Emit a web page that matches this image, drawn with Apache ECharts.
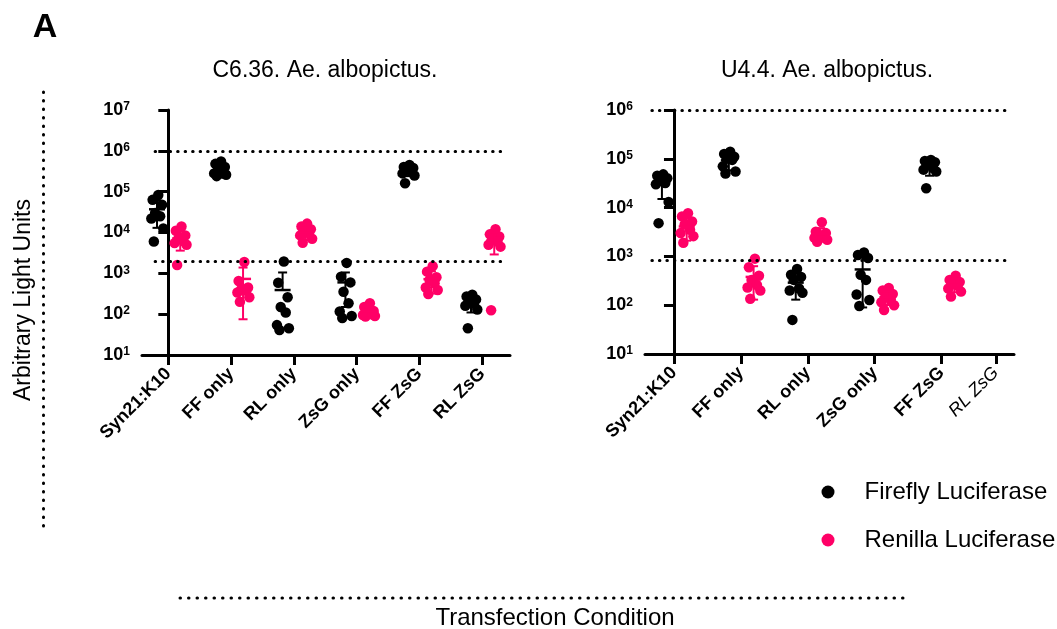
<!DOCTYPE html>
<html>
<head>
<meta charset="utf-8">
<script src="https://cdn.jsdelivr.net/npm/echarts@6/dist/echarts.min.js"></script>
<style>
    html, body { margin: 0; padding: 0; background: #fff; }
    #chart { width: 1057px; height: 629px; }
</style>
</head>
<body>
<div id="chart"></div>
<script>
"use strict";

var CATEGORIES = ['Syn21:K10', 'FF only', 'RL only', 'ZsG only', 'FF ZsG', 'RL ZsG'];
// where each condition sits on the x value axis (RL ZsG is squeezed in on U4.4)
var C636_POS = [0, 1, 2, 3, 4, 5];
var U44_POS = [0, 1, 2, 3, 4, 4.81];

// C6.36 - firefly (black) and renilla (pink) readings per condition
var C636_FF = [
    [83000, 63000, 48000, 30000, 25000, 22000, 12500, 6000],
    [550000, 480000, 400000, 340000, 300000, 280000, 260000, 240000],
    [1950, 590, 260, 150, 110, 54, 45, 41],
    [1800, 830, 600, 355, 185, 116, 90, 80],
    [450000, 400000, 380000, 350000, 320000, 280000, 250000, 160000],
    [300, 270, 230, 200, 180, 160, 130, 45]
];
var C636_RL = [
    [14000, 11000, 8500, 7000, 6200, 5500, 5000, 1600],
    [1900, 650, 450, 400, 380, 340, 260, 200],
    [16500, 14000, 12000, 10500, 9500, 8500, 7000, 5600],
    [185, 150, 120, 110, 100, 95, 90, 88],
    [1500, 1100, 800, 690, 570, 450, 390, 310],
    [12000, 9000, 8000, 7000, 6000, 5000, 4500, 125]
];
var C636_FF_MEAN = [37000, 330000, 390, 600, 330000, 190];
var C636_FF_SD = [24000, 110000, 660, 450, 90000, 80];
var C636_RL_MEAN = [7200, 730, 10000, 115, 720, 6400];
var C636_RL_SD = [3600, 655, 3500, 30, 400, 3500];
var C636_LIMITS = [1e6, 2000];

// U4.4 - no RL ZsG data
var U44_FF = [
    [48000, 45000, 40000, 35000, 32000, 30000, 13000, 4800],
    [140000, 125000, 110000, 100000, 95000, 70000, 55000, 50000],
    [550, 420, 380, 330, 220, 200, 180, 50],
    [1200, 1070, 930, 420, 330, 165, 128, 96],
    [95000, 90000, 85000, 80000, 65000, 60000, 55000, 25000],
    []
];
var U44_RL = [
    [7700, 6600, 5200, 4500, 3500, 3000, 2600, 1900],
    [900, 600, 400, 330, 260, 230, 200, 135],
    [5000, 3200, 3000, 2800, 2600, 2400, 2200, 2000],
    [225, 200, 170, 150, 130, 115, 100, 80],
    [400, 330, 300, 270, 250, 220, 190, 150],
    []
];
var U44_FF_MEAN = [31000, 93000, 290, 540, 69000, null];
var U44_FF_SD = [16000, 35000, 160, 450, 24000, null];
var U44_RL_MEAN = [4100, 380, 2900, 146, 264, null];
var U44_RL_SD = [2000, 250, 900, 45, 80, null];
var U44_LIMITS = [1e6, 830];

var BLACK = '#000000';
var PINK = '#ff0066';
var FONT = '"Liberation Sans", Arial, sans-serif';
var JITTER = [0.02, -0.07, 0.08, -0.03, 0.05, -0.09, 0.1, -0.05];

function points(groups, pos, offset) {
    var out = [];
    groups.forEach(function (vals, g) {
        vals.forEach(function (v, k) {
            out.push([pos[g] + offset + JITTER[k % JITTER.length], v]);
        });
    });
    return out;
}

// lower whisker is dropped when mean - sd goes below zero (log axis)
function errorBars(means, sds, pos, offset) {
    var out = [];
    means.forEach(function (m, g) {
        if (m === null) { return; }
        var lo = m - sds[g];
        out.push([pos[g] + offset, m, lo > 0 ? lo : m, m + sds[g]]);
    });
    return out;
}

function renderErrorBar(color) {
    return function (params, api) {
        var x = api.value(0);
        var c = api.coord([x, api.value(1)]);
        var lo = api.coord([x, api.value(2)]);
        var hi = api.coord([x, api.value(3)]);
        var s = { stroke: color, lineWidth: 2 };
        var parts = [
            { type: 'line', shape: { x1: c[0], y1: lo[1], x2: c[0], y2: hi[1] }, style: s },
            { type: 'line', shape: { x1: c[0] - 4.5, y1: hi[1], x2: c[0] + 4.5, y2: hi[1] }, style: s },
            { type: 'line', shape: { x1: c[0] - 8, y1: c[1], x2: c[0] + 8, y2: c[1] }, style: { stroke: color, lineWidth: 2.5 } }
        ];
        if (api.value(2) !== api.value(1)) {
            parts.push({ type: 'line', shape: { x1: c[0] - 4.5, y1: lo[1], x2: c[0] + 4.5, y2: lo[1] }, style: s });
        }
        return { type: 'group', children: parts };
    };
}

function limitLines(limits, x1, x2) {
    return {
        silent: true,
        symbol: 'none',
        label: { show: false },
        lineStyle: { color: BLACK, width: 3, type: [0.5, 7], cap: 'round' },
        data: limits.map(function (v) {
            return [{ coord: [x1, v] }, { coord: [x2, v] }];
        })
    };
}

function xAxisFor(grid, pos, min, max) {
    return {
        type: 'value',
        gridIndex: grid,
        min: min,
        max: max,
        splitLine: { show: false },
        axisLine: { lineStyle: { color: BLACK, width: 3 } },
        axisTick: { customValues: pos, length: 10, lineStyle: { color: BLACK, width: 3 } },
        axisLabel: {
            customValues: pos,
            rotate: 45,
            margin: 16,
            color: BLACK,
            fontSize: 18,
            fontWeight: 'bold',
            formatter: function (v) {
                var i = pos.indexOf(v);
                var name = CATEGORIES[i];
                if (grid === 1 && i === 5) { return '{it|' + name + '}'; }
                return name;
            },
            rich: {
                it: { fontSize: 18, fontStyle: 'italic', fontWeight: 'normal', color: BLACK }
            }
        }
    };
}

function yAxisFor(grid, max) {
    return {
        type: 'log',
        logBase: 10,
        gridIndex: grid,
        min: 10,
        max: max,
        splitLine: { show: false },
        axisLine: { lineStyle: { color: BLACK, width: 3 } },
        axisTick: { length: 10, lineStyle: { color: BLACK, width: 3 } },
        axisLabel: {
            margin: 12,
            color: BLACK,
            fontSize: 18,
            fontWeight: 'bold',
            formatter: function (v) {
                return '10{sup|' + Math.round(Math.log10(v)) + '}';
            },
            rich: {
                sup: { fontSize: 12, fontWeight: 'bold', verticalAlign: 'top', color: BLACK }
            }
        }
    };
}

function panelSeries(grid, ff, rl, ffMean, ffSd, rlMean, rlSd, pos, limits, lx1, lx2) {
    return [{
        name: 'Firefly Luciferase',
        type: 'scatter',
        xAxisIndex: grid,
        yAxisIndex: grid,
        symbol: 'circle',
        symbolSize: 10.5,
        itemStyle: { color: BLACK, opacity: 1 },
        data: points(ff, pos, -0.18),
        markLine: limitLines(limits, lx1, lx2),
        z: 2
    }, {
        name: 'Renilla Luciferase',
        type: 'scatter',
        xAxisIndex: grid,
        yAxisIndex: grid,
        symbol: 'circle',
        symbolSize: 10.5,
        itemStyle: { color: PINK, opacity: 1 },
        data: points(rl, pos, 0.19),
        z: 2
    }, {
        type: 'custom',
        xAxisIndex: grid,
        yAxisIndex: grid,
        renderItem: renderErrorBar(BLACK),
        data: errorBars(ffMean, ffSd, pos, -0.18),
        silent: true,
        clip: true,
        z: 3
    }, {
        type: 'custom',
        xAxisIndex: grid,
        yAxisIndex: grid,
        renderItem: renderErrorBar(PINK),
        data: errorBars(rlMean, rlSd, pos, 0.19),
        silent: true,
        clip: true,
        z: 3
    }];
}

function textEl(text, x, y, size, weight, rotation) {
    return {
        type: 'text',
        x: x,
        y: y,
        rotation: rotation || 0,
        style: {
            text: text,
            fill: BLACK,
            font: (weight || 'normal') + ' ' + size + 'px ' + FONT,
            textAlign: 'center',
            textVerticalAlign: 'middle'
        }
    };
}

function dottedEl(x1, y1, x2, y2) {
    return {
        type: 'line',
        shape: { x1: x1, y1: y1, x2: x2, y2: y2 },
        style: { stroke: BLACK, lineWidth: 3, lineDash: [0.5, 8], lineCap: 'round' }
    };
}

var chart = echarts.init(document.getElementById('chart'), null, { renderer: 'canvas' });

var option = {
    animation: false,
    backgroundColor: '#ffffff',
    textStyle: { fontFamily: FONT },
    grid: [
        { left: 142, top: 110, width: 368, height: 245, outerBoundsMode: 'none' },
        { left: 645, top: 110, width: 369, height: 244, outerBoundsMode: 'none' }
    ],
    xAxis: [
        xAxisFor(0, C636_POS, -0.419, 5.441),
        xAxisFor(1, U44_POS, -0.433, 5.082)
    ],
    yAxis: [
        yAxisFor(0, 1e7),
        yAxisFor(1, 1e6)
    ],
    legend: {
        data: ['Firefly Luciferase', 'Renilla Luciferase'],
        orient: 'vertical',
        left: 816.5,
        top: 475,
        icon: 'circle',
        itemWidth: 13,
        itemHeight: 13,
        itemGap: 24,
        selectedMode: false,
        textStyle: { color: BLACK, fontSize: 24, lineHeight: 20, padding: [0, 0, 0, 25] }
    },
    graphic: [
        textEl('A', 45, 28, 34, 'bold'),
        textEl('C6.36. Ae. albopictus.', 325, 71, 23),
        textEl('U4.4. Ae. albopictus.', 827, 71, 23),
        textEl('Arbitrary Light Units', 24, 300, 23, 'normal', Math.PI / 2),
        textEl('Transfection Condition', 555, 618, 24),
        dottedEl(43.5, 92, 43.5, 528),
        dottedEl(180, 598, 910, 598)
    ],
    series: panelSeries(0, C636_FF, C636_RL, C636_FF_MEAN, C636_FF_SD, C636_RL_MEAN, C636_RL_SD,
        C636_POS, C636_LIMITS, -0.21, 5.33)
        .concat(panelSeries(1, U44_FF, U44_RL, U44_FF_MEAN, U44_FF_SD, U44_RL_MEAN, U44_RL_SD,
            U44_POS, U44_LIMITS, -0.33, 4.97))
};

chart.setOption(option);
</script>
</body>
</html>
